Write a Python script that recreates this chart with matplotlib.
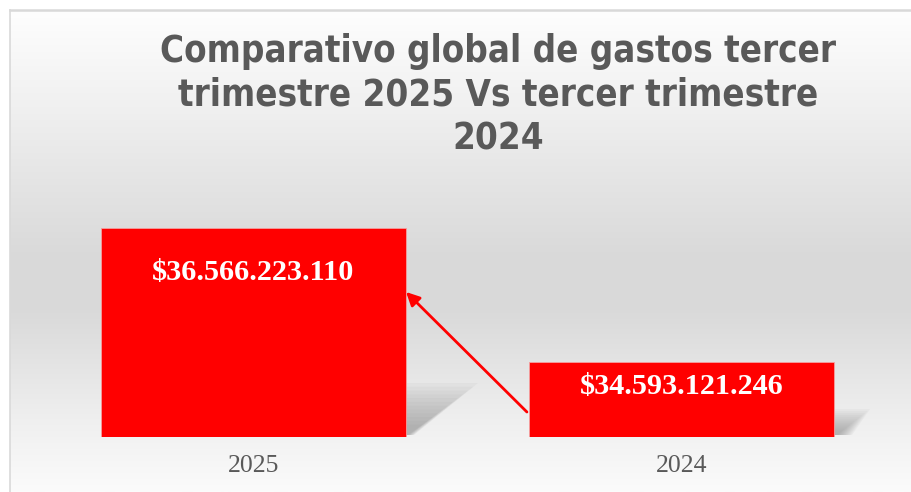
import numpy as np
import matplotlib
matplotlib.use("Agg")
import matplotlib.pyplot as plt
from matplotlib.patches import Polygon
import matplotlib.colors as mcolors

# ---- data ----
categories = ["2025", "2024"]
values = [36566223110, 34593121246]
value_labels = ["$36.566.223.110", "$34.593.121.246"]
title = "Comparativo global de gastos tercer\ntrimestre 2025 Vs tercer trimestre\n2024"

W, H = 912, 492
fig = plt.figure(figsize=(W / 100, H / 100), dpi=100)
fig.patch.set_facecolor("white")

# ---- gradient background ----
bg = fig.add_axes([10 / W, 0, 1 - 10 / W, 1 - 10 / H])
bg.set_axis_off()
stops = [(0.0, "#fefefe"), (0.2, "#f0f0f0"), (0.5, "#dadada"), (0.62, "#d9d9d9"),
         (0.85, "#efefef"), (1.0, "#fbfbfb")]
cmap = mcolors.LinearSegmentedColormap.from_list("g", stops)
grad = np.linspace(0, 1, 256).reshape(-1, 1)
bg.imshow(grad, aspect="auto", cmap=cmap, extent=[0, 1, 0, 1], origin="upper")
bg.set_xlim(0, 1)
bg.set_ylim(0, 1)
# borders
fig.add_artist(plt.Line2D([10 / W, 1], [1 - 10 / H, 1 - 10 / H], color="#d9d9d9", lw=1.8))
fig.add_artist(plt.Line2D([10.5 / W, 10.5 / W], [0, 1 - 10 / H], color="#d9d9d9", lw=1.2))

# ---- main axes ----
left_px, right_px = 39.5, 895.5
bottom_px, top_px = 55, 327
ax = fig.add_axes([left_px / W, bottom_px / H, (right_px - left_px) / W, (top_px - bottom_px) / H])
ax.patch.set_alpha(0)
ymin, ymax = 33.4888e9, 37.494e9
ax.set_xlim(-0.5, 1.5)
ax.set_ylim(ymin, ymax)
for s in ax.spines.values():
    s.set_visible(False)
ax.set_yticks([])

x = np.arange(len(categories))
bw = 0.713
bars = ax.bar(x, values, width=bw, bottom=0, color="#ff0000", edgecolor="#f4a0a0",
              linewidth=0.6, zorder=3)

# soft shadows
px_x = 1 / 428.0
px_y = (ymax - ymin) / (top_px - bottom_px)
def shadow(xr, h_px, ext_px, slant):
    for k in range(12):
        f = 1 - k * 0.07
        pts = [(xr, ymin + 2 * px_y),
               (xr, ymin + h_px * f * px_y),
               (xr + ext_px * f * px_x, ymin + h_px * f * px_y),
               (xr + slant * f * px_x, ymin + 2 * px_y)]
        ax.add_patch(Polygon(pts, closed=True, facecolor="#808080", edgecolor="none",
                             alpha=0.06, zorder=2))
shadow(0 + bw / 2, 54, 72, 8)
shadow(1 + bw / 2, 28, 36, 18)

# value labels
offsets = [-44, -24]
for xi, v, lab, off in zip(x, values, value_labels, offsets):
    ax.annotate(lab, (xi, v), xytext=(0, off / 1.389), textcoords="offset points",
                ha="center", va="center", color="white", fontsize=21.8,
                fontweight="bold", family="Liberation Serif", zorder=5)

# arrow from 2024 bar to 2025 bar
ax.annotate("", xy=(0 + bw / 2, ymin + 145 * px_y), xytext=(1 - bw / 2 - 2 * px_x, ymin + 25 * px_y),
            arrowprops=dict(arrowstyle="-|>", color="#ff0000", lw=2, mutation_scale=20,
                            shrinkA=0, shrinkB=0), zorder=6)

ax.set_xticks(x)
ax.set_xticklabels(categories, family="Liberation Serif", fontsize=18.5, color="#595959")
ax.tick_params(axis="x", length=0, pad=13)

fig.text(498 / W, 1 - 95 / H, title, ha="center", va="center", fontsize=26.3,
         fontweight="bold", color="#595959", family="DejaVu Sans", fontstretch="condensed",
         linespacing=1.24)

fig.savefig("out.png", dpi=100)
